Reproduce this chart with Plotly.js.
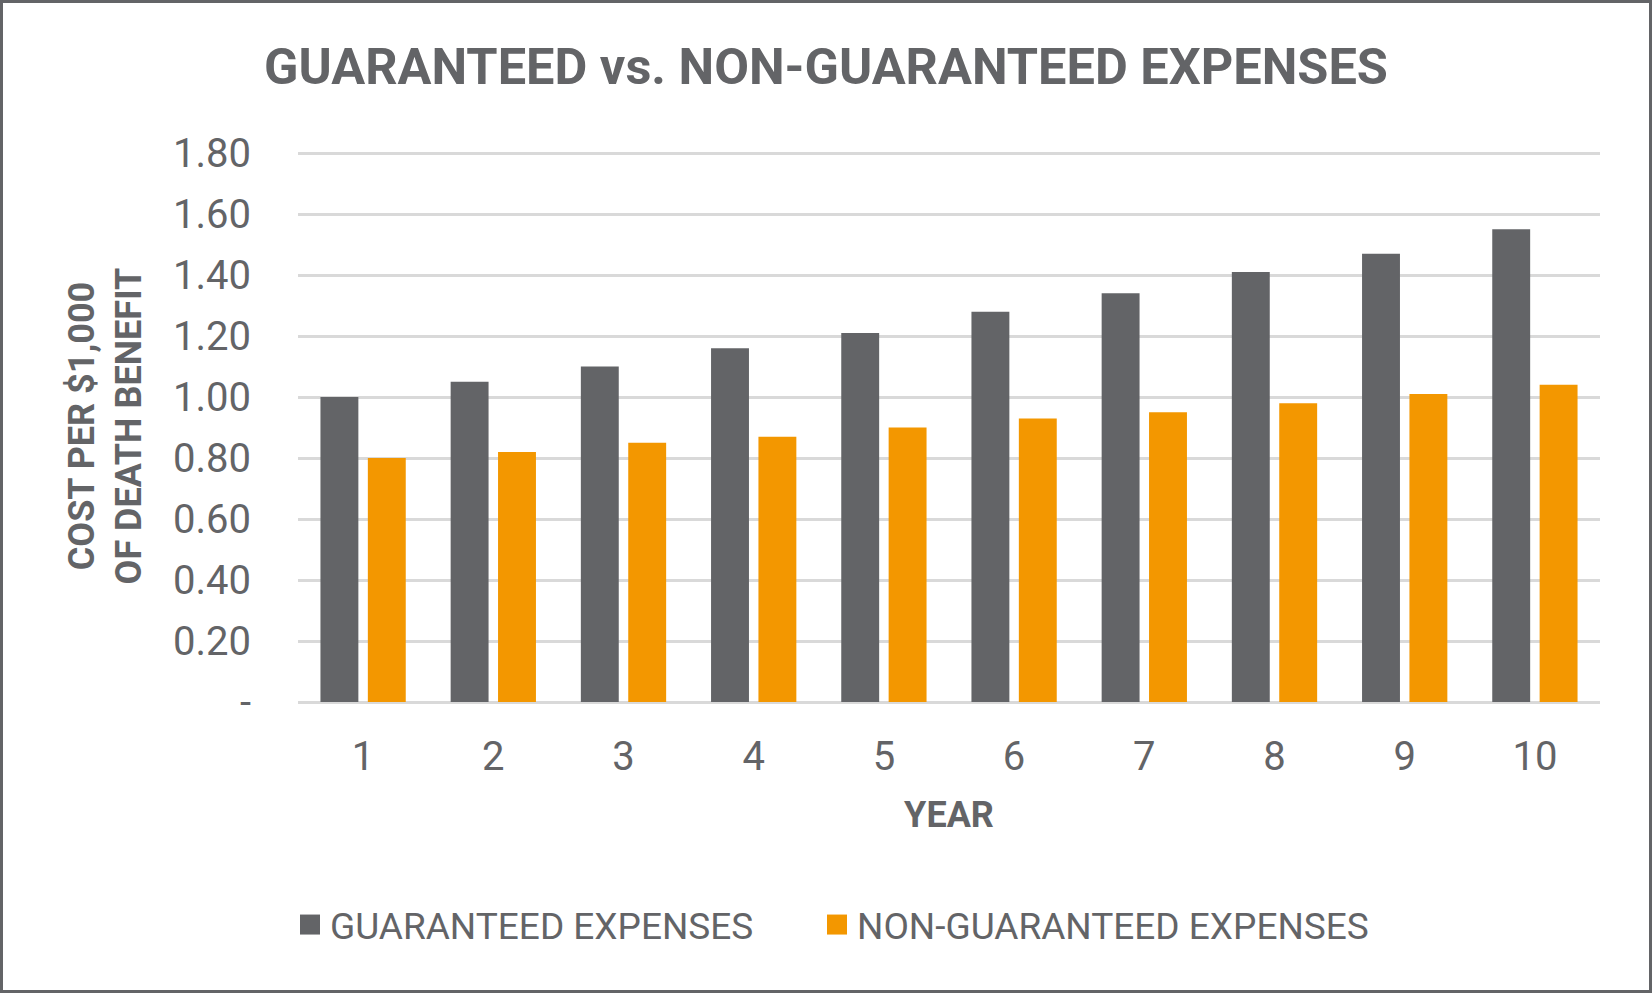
<!DOCTYPE html>
<html>
<head>
<meta charset="utf-8">
<script src="https://cdn.plot.ly/plotly-3.0.1.min.js"></script>
<style>
  html, body { margin: 0; padding: 0; background: #ffffff; }
  #frame { width: 1652px; height: 993px; box-sizing: border-box; border: 3px solid #636467; position: relative; overflow: hidden; }
  #chart { position: absolute; left: -3px; top: -3px; width: 1652px; height: 993px; }
</style>
</head>
<body>
<div id="frame"><div id="chart"></div></div>
<script>
const years = ['1','2','3','4','5','6','7','8','9','10'];
const guaranteedExpenses = [1.00, 1.05, 1.10, 1.16, 1.21, 1.28, 1.34, 1.41, 1.47, 1.55];
const nonGuaranteedExpenses = [0.80, 0.82, 0.85, 0.87, 0.90, 0.93, 0.95, 0.98, 1.01, 1.04];
const yTickValues = [0, 0.2, 0.4, 0.6, 0.8, 1.0, 1.2, 1.4, 1.6, 1.8];
const yTickLabels = ['-', '0.20', '0.40', '0.60', '0.80', '1.00', '1.20', '1.40', '1.60', '1.80'];

const GRAY = '#636467';
const ORANGE = '#F39700';
const TEXT = '#636467';
const GRID = '#D9D9D9';
const FONT = 'Roboto, "Noto Sans", Arial, sans-serif';

const traces = [
  {
    type: 'bar', name: 'GUARANTEED EXPENSES', x: years, y: guaranteedExpenses,
    marker: { color: GRAY, line: { width: 0 } }, legend: 'legend'
  },
  {
    type: 'bar', name: 'NON-GUARANTEED EXPENSES', x: years, y: nonGuaranteedExpenses,
    marker: { color: ORANGE, line: { width: 0 } }, legend: 'legend2'
  }
];

const legendBase = {
  orientation: 'h', xref: 'container', yref: 'container',
  xanchor: 'left', y: 1 - 925 / 993, yanchor: 'middle',
  font: { family: FONT, size: 37, color: TEXT },
  bgcolor: 'rgba(0,0,0,0)', borderwidth: 0
};

const layout = {
  width: 1652, height: 993,
  paper_bgcolor: '#ffffff', plot_bgcolor: '#ffffff',
  font: { family: FONT, color: TEXT, size: 40 },
  margin: { l: 298, r: 52, t: 150, b: 291, pad: 0 },
  title: {
    text: 'GUARANTEED vs. NON-GUARANTEED EXPENSES',
    font: { family: FONT, size: 50.5, weight: 700, color: TEXT },
    x: 0.5, xref: 'container', xanchor: 'center',
    y: 1 - 66 / 993, yref: 'container', yanchor: 'middle'
  },
  barmode: 'group', bargap: 0.272, bargroupgap: 0.2,
  xaxis: {
    type: 'category',
    showgrid: false, showline: false, zeroline: false,
    ticks: '', ticklabelstandoff: 27,
    tickfont: { family: FONT, size: 40, color: TEXT },
    title: { text: 'YEAR', font: { family: FONT, size: 36, weight: 700, color: TEXT }, standoff: 22 }
  },
  yaxis: {
    range: [0, 1.81], tickvals: yTickValues, ticktext: yTickLabels,
    showgrid: true, gridcolor: GRID, gridwidth: 3,
    zeroline: true, zerolinecolor: GRID, zerolinewidth: 3,
    showline: false, ticks: '', ticklabelstandoff: 46,
    tickfont: { family: FONT, size: 40, color: TEXT },
    title: { text: 'COST PER $1,000<br>OF DEATH BENEFIT', font: { family: FONT, size: 36, weight: 700, color: TEXT }, standoff: 20 }
  },
  showlegend: true,
  legend: Object.assign({}, legendBase, { x: 290 / 1652 }),
  legend2: Object.assign({}, legendBase, { x: 817 / 1652 })
};

Plotly.newPlot('chart', traces, layout, { displayModeBar: false, staticPlot: true }).then(function () {
  document.querySelectorAll('.legendpoints path').forEach(function (p) {
    p.setAttribute('d', 'M10,10H-10V-10H10Z');
  });
});
</script>
</body>
</html>
